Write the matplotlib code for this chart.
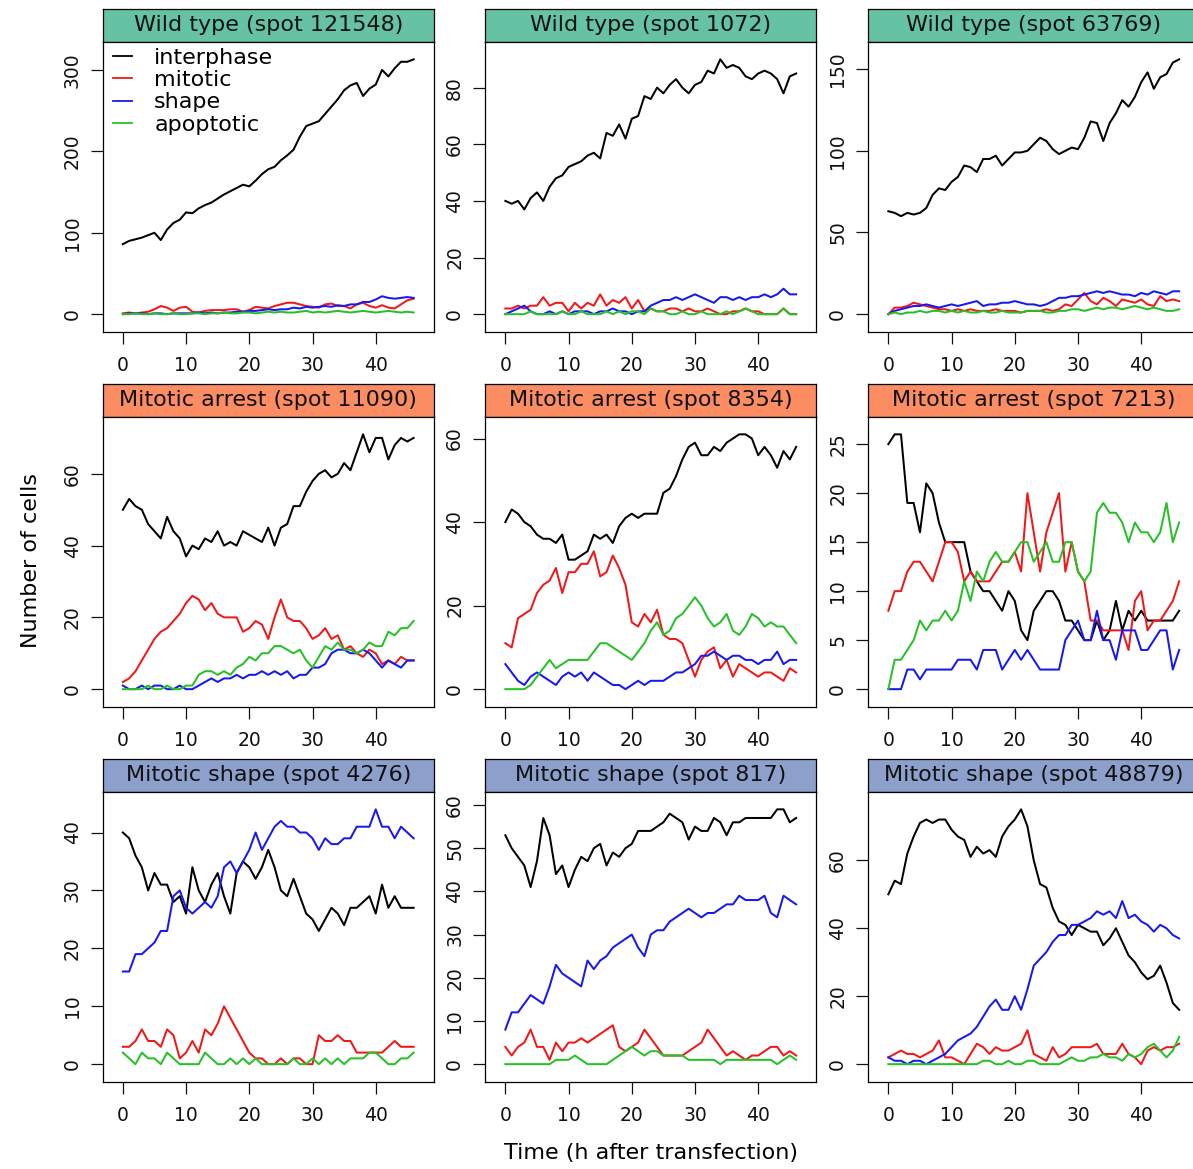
import numpy as np
import matplotlib
matplotlib.use("Agg")
import matplotlib.pyplot as plt
from matplotlib.lines import Line2D

# ---------------------------------------------------------------
# Time axis (hours after transfection)
hours = list(range(0, 47))

classes = ["interphase", "mitotic", "shape", "apoptotic"]
class_colors = ["#000000", "#f01818", "#1818f0", "#28c028"]

# ---------------------------------------------------------------
# Wild type (spot 121548)
wt121548_interphase = [86, 90, 92, 94, 97, 100, 91, 104, 112, 116, 125, 124, 130, 134, 137, 142, 147, 151, 155, 159,
                       157, 164, 172, 178, 181, 189, 195, 202, 218, 231, 234, 237, 246, 255, 264, 275, 281, 284, 268,
                       277, 282, 300, 292, 302, 310, 310, 313]
wt121548_mitotic = [1, 2, 1, 2, 3, 6, 10, 8, 4, 8, 9, 3, 2, 4, 5, 5, 5, 6, 6, 3, 5, 9, 8, 7, 10, 12, 14, 14, 12, 10,
                    9, 8, 12, 13, 10, 10, 7, 12, 14, 10, 8, 11, 8, 7, 12, 17, 19]
wt121548_shape = [0, 1, 1, 1, 0, 1, 1, 0, 1, 1, 1, 1, 2, 1, 2, 1, 2, 2, 3, 3, 4, 4, 5, 6, 5, 6, 6, 8, 7, 9,
                  8, 9, 10, 9, 11, 10, 12, 12, 15, 15, 18, 22, 20, 19, 20, 21, 20]
wt121548_apoptotic = [0, 0, 1, 0, 0, 1, 0, 0, 1, 0, 0, 1, 1, 0, 1, 1, 2, 1, 1, 2, 2, 1, 2, 3, 2, 3, 2, 2, 3, 4,
                      2, 3, 2, 3, 4, 3, 2, 3, 4, 3, 2, 3, 4, 3, 2, 3, 2]

# Wild type (spot 1072)
wt1072_interphase = [40, 39, 40, 37, 41, 43, 40, 45, 48, 49, 52, 53, 54, 56, 57, 55, 64, 63, 67, 62, 69, 70, 77, 76,
                     80, 78, 81, 83, 80, 78, 81, 82, 86, 85, 90, 87, 88, 87, 84, 83, 85, 86, 85, 83, 78, 84, 85]
wt1072_mitotic = [2, 2, 3, 2, 3, 3, 6, 3, 4, 4, 1, 4, 2, 4, 3, 7, 3, 5, 4, 6, 2, 5, 1, 2, 1, 1, 2, 2, 1, 2,
                  1, 1, 2, 1, 0, 0, 1, 1, 2, 1, 1, 0, 0, 0, 2, 0, 0]
wt1072_shape = [0, 1, 2, 3, 1, 0, 0, 1, 0, 1, 0, 1, 1, 1, 0, 1, 1, 2, 1, 1, 0, 1, 1, 3, 4, 5, 5, 6, 5, 6,
                7, 6, 5, 4, 6, 6, 5, 6, 5, 6, 6, 7, 6, 7, 9, 7, 7]
wt1072_apoptotic = [0, 0, 0, 0, 1, 0, 0, 0, 0, 1, 0, 0, 1, 0, 0, 0, 1, 0, 1, 0, 1, 1, 0, 2, 1, 1, 0, 0, 1, 0,
                    0, 1, 0, 0, 0, 1, 0, 1, 2, 1, 0, 0, 0, 0, 2, 0, 0]

# Wild type (spot 63769)
wt63769_interphase = [63, 62, 60, 62, 61, 62, 65, 73, 77, 76, 81, 84, 91, 90, 87, 95, 95, 97, 91, 95, 99, 99, 100,
                      104, 108, 106, 101, 98, 100, 102, 101, 108, 118, 117, 106, 117, 123, 131, 127, 133, 142, 148,
                      138, 145, 147, 154, 156]
wt63769_mitotic = [0, 4, 4, 5, 7, 6, 5, 4, 3, 3, 2, 3, 2, 3, 2, 2, 2, 3, 2, 2, 2, 1, 2, 2, 2, 3, 2, 3, 6, 5,
                   9, 13, 8, 6, 10, 8, 5, 9, 8, 7, 9, 6, 5, 11, 8, 9, 8]
wt63769_shape = [0, 2, 3, 4, 5, 5, 6, 5, 4, 5, 6, 5, 6, 7, 8, 5, 6, 6, 7, 7, 8, 7, 6, 6, 5, 6, 8, 10, 10, 11,
                 11, 12, 13, 14, 13, 14, 13, 12, 12, 11, 13, 12, 14, 13, 12, 14, 14]
wt63769_apoptotic = [0, 1, 0, 1, 1, 2, 1, 2, 2, 1, 2, 1, 2, 1, 1, 2, 1, 1, 2, 1, 1, 1, 2, 2, 2, 1, 1, 2, 2, 3,
                     3, 2, 3, 4, 3, 4, 4, 3, 4, 5, 4, 3, 4, 3, 2, 2, 3]

# Mitotic arrest (spot 11090)
ma11090_interphase = [50, 53, 51, 50, 46, 44, 42, 48, 44, 42, 37, 40, 39, 42, 41, 44, 40, 41, 40, 44, 43, 42, 41, 45,
                      40, 45, 46, 51, 51, 55, 58, 60, 61, 59, 60, 63, 61, 66, 71, 66, 70, 70, 64, 68, 70, 69, 70]
ma11090_mitotic = [2, 3, 5, 8, 11, 14, 16, 17, 19, 21, 24, 26, 25, 22, 24, 21, 20, 20, 20, 16, 17, 19, 18, 14, 20,
                   25, 20, 19, 19, 17, 14, 15, 17, 14, 15, 11, 12, 10, 9, 11, 10, 7, 8, 7, 9, 8, 8]
ma11090_shape = [1, 0, 0, 1, 0, 1, 1, 0, 0, 1, 0, 0, 1, 2, 3, 2, 3, 3, 4, 3, 4, 4, 5, 4, 5, 4, 5, 3, 4, 4,
                 6, 6, 7, 10, 11, 11, 10, 10, 11, 10, 8, 6, 8, 7, 6, 8, 8]
ma11090_apoptotic = [0, 0, 0, 0, 1, 0, 0, 1, 0, 0, 1, 1, 4, 5, 5, 4, 5, 4, 6, 7, 9, 8, 10, 10, 12, 12, 11, 10, 11, 8,
                     6, 9, 12, 11, 13, 11, 11, 10, 11, 13, 12, 12, 16, 15, 17, 17, 19]

# Mitotic arrest (spot 8354)
ma8354_interphase = [40, 43, 42, 40, 39, 37, 36, 36, 35, 37, 31, 31, 32, 33, 37, 36, 37, 35, 39, 41, 42, 41, 42, 42,
                     42, 47, 48, 51, 55, 58, 59, 56, 56, 58, 57, 59, 60, 61, 61, 60, 56, 58, 56, 53, 57, 55, 58]
ma8354_mitotic = [11, 10, 17, 18, 19, 23, 25, 26, 29, 23, 28, 28, 30, 30, 33, 27, 28, 32, 29, 25, 16, 15, 18, 16, 19,
                  13, 12, 12, 11, 7, 3, 7, 9, 10, 5, 7, 3, 6, 5, 4, 3, 4, 4, 3, 2, 5, 4]
ma8354_shape = [6, 4, 2, 1, 3, 4, 3, 2, 1, 3, 4, 3, 4, 2, 4, 3, 2, 1, 1, 0, 1, 2, 1, 2, 2, 2, 3, 4, 4, 5,
                6, 8, 8, 9, 8, 7, 8, 8, 7, 7, 6, 7, 7, 9, 6, 7, 7]
ma8354_apoptotic = [0, 0, 0, 0, 1, 3, 5, 7, 5, 6, 7, 7, 7, 7, 9, 11, 11, 10, 9, 8, 7, 9, 11, 14, 16, 13, 14, 17, 18,
                    20, 22, 20, 17, 15, 16, 18, 14, 13, 15, 18, 17, 15, 16, 15, 15, 13, 11]

# Mitotic arrest (spot 7213)
ma7213_interphase = [25, 26, 26, 19, 19, 16, 21, 20, 17, 15, 15, 15, 15, 12, 11, 10, 10, 9, 8, 10, 9, 6, 5, 8, 9,
                     10, 10, 9, 7, 7, 6, 5, 5, 7, 5, 6, 9, 6, 8, 7, 8, 7, 7, 7, 7, 7, 8]
ma7213_mitotic = [8, 10, 10, 12, 13, 13, 12, 11, 13, 15, 15, 14, 11, 12, 11, 11, 11, 12, 13, 13, 14, 12, 20, 16, 12,
                  16, 18, 20, 12, 15, 12, 11, 7, 7, 6, 6, 6, 6, 4, 9, 10, 6, 7, 7, 8, 9, 11]
ma7213_shape = [0, 0, 0, 2, 2, 1, 2, 2, 2, 2, 2, 3, 3, 3, 2, 4, 4, 4, 2, 3, 4, 3, 4, 3, 2, 2, 2, 2, 5, 6,
                7, 5, 5, 8, 5, 5, 3, 6, 6, 6, 4, 4, 5, 6, 6, 2, 4]
ma7213_apoptotic = [0, 3, 3, 4, 5, 7, 6, 7, 7, 8, 7, 8, 11, 9, 12, 11, 13, 14, 13, 13, 14, 15, 15, 13, 14, 15, 13,
                    13, 15, 15, 12, 11, 12, 18, 19, 18, 18, 17, 15, 17, 16, 16, 15, 16, 19, 15, 17]

# Mitotic shape (spot 4276)
ms4276_interphase = [40, 39, 36, 34, 30, 33, 31, 31, 28, 29, 26, 34, 30, 28, 31, 33, 29, 26, 33, 35, 34, 32, 34, 37,
                     34, 30, 29, 32, 29, 26, 25, 23, 25, 27, 26, 24, 27, 27, 28, 29, 26, 31, 27, 29, 27, 27, 27]
ms4276_mitotic = [3, 3, 4, 6, 4, 4, 3, 6, 5, 1, 2, 4, 2, 6, 5, 7, 10, 8, 6, 4, 2, 1, 1, 0, 0, 1, 0, 1, 1, 0,
                  0, 5, 4, 4, 5, 4, 4, 2, 2, 2, 2, 2, 3, 4, 3, 3, 3]
ms4276_shape = [16, 16, 19, 19, 20, 21, 23, 23, 29, 30, 27, 26, 27, 28, 27, 29, 34, 35, 33, 35, 37, 40, 37, 39, 41,
                42, 41, 41, 40, 40, 39, 37, 39, 38, 38, 39, 39, 41, 41, 41, 44, 41, 41, 39, 41, 40, 39]
ms4276_apoptotic = [2, 1, 0, 2, 1, 1, 0, 2, 1, 0, 0, 0, 0, 2, 1, 0, 0, 1, 0, 1, 0, 1, 0, 0, 0, 0, 0, 1, 0, 0,
                    1, 0, 1, 0, 1, 0, 1, 1, 1, 2, 2, 1, 0, 0, 1, 1, 2]

# Mitotic shape (spot 817)
ms817_interphase = [53, 50, 48, 46, 41, 47, 57, 53, 44, 46, 41, 45, 48, 47, 50, 51, 46, 49, 48, 50, 51, 54, 54, 54,
                    55, 56, 58, 57, 56, 52, 55, 54, 54, 57, 56, 53, 56, 56, 57, 57, 57, 57, 57, 59, 59, 56, 57]
ms817_mitotic = [4, 2, 4, 5, 8, 4, 4, 1, 5, 3, 5, 5, 6, 5, 6, 7, 8, 9, 4, 3, 4, 5, 8, 6, 4, 2, 2, 2, 2, 3,
                 4, 5, 8, 6, 4, 2, 3, 2, 1, 2, 2, 3, 4, 4, 2, 3, 2]
ms817_shape = [8, 12, 12, 14, 16, 15, 14, 18, 23, 21, 20, 19, 18, 24, 22, 24, 25, 27, 28, 29, 30, 27, 25, 30, 31,
               31, 33, 34, 35, 36, 35, 34, 35, 35, 36, 37, 37, 39, 38, 38, 38, 39, 35, 34, 39, 38, 37]
ms817_apoptotic = [0, 0, 0, 0, 0, 0, 0, 0, 1, 1, 1, 2, 1, 0, 0, 0, 0, 1, 2, 3, 4, 3, 2, 3, 3, 2, 2, 2, 2, 1,
                   1, 1, 1, 1, 0, 1, 1, 1, 1, 1, 1, 1, 1, 0, 1, 2, 1]

# Mitotic shape (spot 48879)
ms48879_interphase = [50, 54, 53, 62, 67, 71, 72, 71, 72, 72, 69, 67, 66, 61, 64, 62, 63, 61, 67, 70, 72, 75, 70, 60,
                      53, 52, 46, 42, 41, 38, 41, 40, 39, 39, 35, 37, 40, 36, 32, 30, 27, 25, 26, 29, 24, 18, 16]
ms48879_mitotic = [2, 3, 4, 3, 3, 2, 3, 4, 7, 2, 2, 1, 0, 3, 6, 5, 3, 5, 4, 4, 5, 6, 10, 3, 2, 1, 5, 2, 3, 5,
                   5, 5, 5, 6, 3, 3, 3, 6, 3, 2, 0, 4, 5, 4, 5, 5, 6]
ms48879_shape = [2, 1, 1, 0, 1, 1, 0, 1, 2, 3, 5, 7, 8, 9, 11, 14, 17, 19, 16, 16, 20, 16, 22, 29, 31, 33, 36, 38,
                 38, 41, 41, 42, 43, 45, 44, 45, 43, 48, 43, 44, 42, 41, 39, 41, 40, 38, 37]
ms48879_apoptotic = [0, 0, 0, 0, 0, 0, 0, 0, 0, 0, 0, 0, 0, 0, 0, 1, 1, 0, 0, 1, 0, 0, 1, 1, 0, 0, 0, 0, 1, 2,
                     1, 1, 2, 2, 3, 2, 2, 1, 3, 2, 3, 5, 6, 4, 2, 4, 8]

# Panel titles, strip colours and y tick positions
panel_titles = ["Wild type (spot 121548)", "Wild type (spot 1072)", "Wild type (spot 63769)",
                "Mitotic arrest (spot 11090)", "Mitotic arrest (spot 8354)", "Mitotic arrest (spot 7213)",
                "Mitotic shape (spot 4276)", "Mitotic shape (spot 817)", "Mitotic shape (spot 48879)"]
phenotype_colors = ["#66C2A5", "#FC8D62", "#8DA0CB"]
x_ticks = [0, 10, 20, 30, 40]
y_ticks = [[0, 100, 200, 300], [0, 20, 40, 60, 80], [0, 50, 100, 150],
           [0, 20, 40, 60], [0, 20, 40, 60], [0, 5, 10, 15, 20, 25],
           [0, 10, 20, 30, 40], [0, 10, 20, 30, 40, 50, 60], [0, 20, 40, 60]]

panel_series = [
    [wt121548_interphase, wt121548_mitotic, wt121548_shape, wt121548_apoptotic],
    [wt1072_interphase, wt1072_mitotic, wt1072_shape, wt1072_apoptotic],
    [wt63769_interphase, wt63769_mitotic, wt63769_shape, wt63769_apoptotic],
    [ma11090_interphase, ma11090_mitotic, ma11090_shape, ma11090_apoptotic],
    [ma8354_interphase, ma8354_mitotic, ma8354_shape, ma8354_apoptotic],
    [ma7213_interphase, ma7213_mitotic, ma7213_shape, ma7213_apoptotic],
    [ms4276_interphase, ms4276_mitotic, ms4276_shape, ms4276_apoptotic],
    [ms817_interphase, ms817_mitotic, ms817_shape, ms817_apoptotic],
    [ms48879_interphase, ms48879_mitotic, ms48879_shape, ms48879_apoptotic],
]

# ---------------------------------------------------------------
W, H = 1193, 1169
fig = plt.figure(figsize=(W / 100, H / 100), dpi=100)
fig.patch.set_facecolor("white")

col_left = [102.5, 485.0, 868.0]
row_top = [8.5, 383.5, 758.5]
box_w = 331.5
strip_h = 33.0
plot_h = 290.5
pad_frac = 0.07

t = np.array(hours, dtype=float)
xlo, xhi = t.min(), t.max()
xr = xhi - xlo

for k in range(9):
    r, c = divmod(k, 3)
    left = col_left[c]
    top = row_top[r]

    # strip with panel title
    sax = fig.add_axes([left / W, 1 - (top + strip_h) / H, box_w / W, strip_h / H])
    sax.set_facecolor(phenotype_colors[r])
    sax.set_xticks([])
    sax.set_yticks([])
    for sp in sax.spines.values():
        sp.set_linewidth(0.9)
        sp.set_color("black")
    sax.text(0.5, 0.5, panel_titles[k], ha="center", va="center", fontsize=16,
             color="#111111", transform=sax.transAxes)

    # data panel
    ax = fig.add_axes([left / W, 1 - (top + strip_h + plot_h) / H, box_w / W, plot_h / H])
    series = panel_series[k]
    for vals, col in zip(series, class_colors):
        ax.plot(t, vals, color=col, lw=1.45, solid_joinstyle="round")

    allv = np.concatenate([np.asarray(v, float) for v in series])
    ylo, yhi = allv.min(), allv.max()
    yr = yhi - ylo
    ax.set_xlim(xlo - pad_frac * xr, xhi + pad_frac * xr)
    ax.set_ylim(ylo - pad_frac * yr, yhi + pad_frac * yr)

    ax.set_xticks(x_ticks)
    ax.set_yticks(y_ticks[k])
    ax.tick_params(axis="both", direction="out", length=8.5, width=0.9, labelsize=13.5,
                   top=False, right=False, color="#111111", labelcolor="#111111")
    ax.tick_params(axis="x", pad=9)
    ax.tick_params(axis="y", pad=6.5)
    for lab in ax.get_yticklabels():
        lab.set_rotation(90)
        lab.set_verticalalignment("center")
    for sp in ax.spines.values():
        sp.set_linewidth(0.9)
        sp.set_color("black")

    if k == 0:
        handles = [Line2D([], [], color=col, lw=1.3) for col in class_colors]
        ax.legend(handles, classes, loc="upper left", bbox_to_anchor=(0.032, 0.978),
                  frameon=False, borderpad=0, borderaxespad=0, handlelength=0.85,
                  handletextpad=1.0, labelspacing=0.1, fontsize=16)

fig.text(651 / W, 1 - 1153 / H, "Time (h after transfection)", ha="center", va="center", fontsize=16)
fig.text(31 / W, 1 - 561 / H, "Number of cells", rotation=90, ha="center", va="center", fontsize=16)

fig.savefig("out.png", dpi=100, facecolor="white")
